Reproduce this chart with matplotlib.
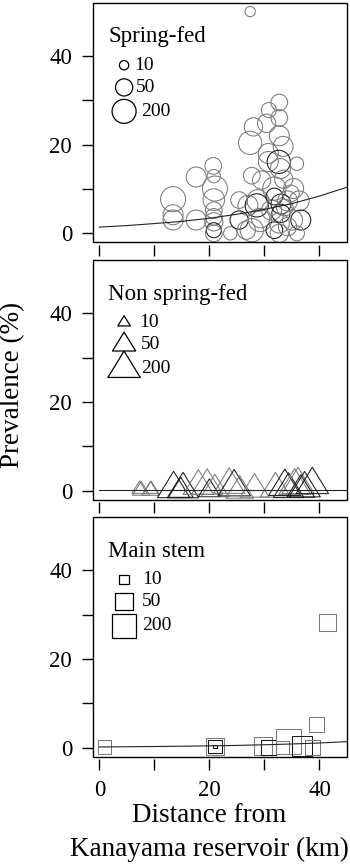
import numpy as np
import matplotlib
matplotlib.use("Agg")
import matplotlib.pyplot as plt
from matplotlib.path import Path
from matplotlib.patches import Rectangle

plt.rcParams['font.family'] = ['Liberation Serif', 'DejaVu Serif']

# ---- data ----
# spring-fed sites: distance (km), prevalence (%), sample size, dark outline
sf_dist = [27.4, 13.4, 13.4, 13.4, 17.6, 17.6, 20.7, 20.8, 21.0, 20.8, 20.8, 20.8, 20.8, 20.8,
           20.8, 23.8, 25.4, 25.4, 27.4, 27.7, 28.0, 27.7, 28.6, 28.8, 29.2, 30.4, 30.8, 32.7,
           32.7, 32.7, 33.4, 30.7, 30.7, 32.6, 32.9, 35.9, 35.3, 31.8, 31.8, 31.3, 33.0, 33.0,
           34.2, 36.3, 36.6, 35.1, 31.8, 32.7, 35.9, 32.7, 34.2, 27.0, 29.3, 26.7, 33.7, 34.8,
           29.5, 33.5]
sf_prev = [50.0, 7.7, 4.2, 3.0, 12.7, 3.0, 15.2, 12.9, 10.1, 7.6, 5.2, 3.7, 2.6, 0.7,
           0.0, 0.0, 3.0, 7.5, 20.4, 13.0, 24.0, 0.7, 6.3, 7.4, 3.0, 24.8, 27.8, 29.5,
           26.0, 22.0, 19.6, 18.0, 16.2, 16.1, 14.6, 15.7, 10.1, 10.1, 8.3, 5.2, 6.6, 4.5,
           7.3, 7.3, 3.0, 3.0, 0.7, 0.0, 0.0, 2.3, 1.5, 6.3, 3.3, 0.7, 5.8, 9.0,
           12.0, 12.2]
sf_n = [12, 245, 88, 88, 88, 88, 45, 23, 245, 125, 45, 45, 62, 32,
        45, 23, 62, 45, 170, 45, 62, 170, 170, 125, 170, 62, 32, 45,
        45, 88, 88, 88, 88, 170, 88, 23, 88, 170, 45, 88, 88, 62,
        88, 88, 88, 88, 45, 62, 32, 88, 62, 88, 62, 62, 45, 45,
        62, 62]
sf_dark = [0, 0, 0, 0, 0, 0, 0, 0, 0, 0, 0, 0, 0, 1,
           0, 0, 1, 0, 0, 0, 0, 0, 1, 0, 0, 0, 0, 0,
           0, 0, 0, 0, 0, 1, 0, 0, 0, 0, 1, 0, 1, 1,
           0, 0, 1, 0, 1, 0, 0, 0, 0, 0, 0, 0, 0, 0,
           0, 0]

# non spring-fed sites
nsf_dist = [7.3, 7.6, 9.4, 9.3, 13.5, 15.2, 14.8, 18.0, 19.6, 20.0, 21.0, 23.6, 24.5, 25.5,
            28.2, 32.0, 33.7, 34.4, 35.5, 36.1, 37.3, 38.7, 36.6]
nsf_prev = [0.3, 0.0, 0.3, 0.0, 0.4, 0.3, 0.0, 1.0, 1.1, 0.0, 0.3, 1.3, 0.8, 0.0,
            0.3, 0.4, 0.9, 0.3, 1.1, 1.3, 0.5, 1.3, 0.2]
nsf_n = [15, 20, 15, 20, 200, 170, 62, 150, 170, 40, 100, 170, 200, 100,
         120, 150, 200, 150, 180, 200, 170, 200, 100]
nsf_dark = [0, 0, 0, 0, 1, 1, 1, 0, 0, 1, 0, 0, 1, 0,
            0, 0, 1, 1, 0, 0, 1, 1, 1]

# main stem sites
ms_dist = [0.9, 21.0, 21.0, 21.0, 29.8, 30.8, 33.3, 34.4, 36.8, 38.7, 39.4, 41.5]
ms_prev = [0.1, 0.3, 0.3, 0.3, 0.3, 0.0, 0.1, 1.35, 0.3, 0.0, 5.3, 28.2]
ms_n = [23, 50, 23, 3, 60, 32, 20, 245, 88, 32, 32, 50]
ms_dark = [0, 0, 1, 1, 0, 1, 0, 0, 1, 0, 0, 0]

# fitted curves
fit_x = [0, 5, 10, 15, 20, 25, 30, 35, 40, 45]
sf_fit = [1.4, 1.75, 2.2, 2.7, 3.4, 4.3, 5.4, 6.7, 8.4, 10.4]
nsf_fit = [0.05, 0.05, 0.05, 0.05, 0.05, 0.05, 0.05, 0.05, 0.05, 0.05]
ms_fit = [0.15, 0.2, 0.25, 0.32, 0.4, 0.5, 0.65, 0.82, 1.05, 1.35]

legend_n = [10, 50, 200]
titles = ['Spring-fed', 'Non spring-fed', 'Main stem']

GRAY = '#7a7a7a'
DARK = '#1a1a1a'
DPI = 100


def marker_pt(n):
    # symbol diameter in points, grows with log sample size
    d_px = -2.0 + 4.91 * np.log(np.asarray(n, dtype=float))
    return d_px * 72.0 / DPI


tri = Path([(0, 2 / 3), (0.615, -1 / 3), (-0.615, -1 / 3), (0, 2 / 3)],
           [Path.MOVETO, Path.LINETO, Path.LINETO, Path.CLOSEPOLY])

panels = [
    (sf_dist, sf_prev, sf_n, sf_dark, sf_fit, 'o', 1.0),
    (nsf_dist, nsf_prev, nsf_n, nsf_dark, nsf_fit, tri, 1.464),
    (ms_dist, ms_prev, ms_n, ms_dark, ms_fit, 's', 1.0),
]
legend_text_x = [[6.4, 6.6, 7.6], [7.3, 7.6, 7.6], [7.8, 7.7, 7.7]]
legend_y = [37.9, 32.9, 27.5]

fig = plt.figure(figsize=(3.5, 8.64), dpi=DPI)
tops = [2.7, 260, 517]
H = 239.5

for i, (x, y, n, dark, fit, mk, scale) in enumerate(panels):
    top = tops[i]
    ax = fig.add_axes([93 / 350, 1 - (top + H) / 864, 254 / 350, H / 864])
    ax.set_xlim(-1.15, 45)
    ax.set_ylim(-2, 52)

    colors = [DARK if d else GRAY for d in dark]
    sizes = (marker_pt(n) * scale) ** 2
    ax.scatter(x, y, s=sizes, marker=mk, facecolors='none', edgecolors=colors,
               linewidths=0.75, clip_on=True)
    ax.plot(fit_x, fit, color='#222222', lw=0.8)

    # size legend
    ax.text(1.6, 44.3, titles[i], fontsize=16.5, ha='left', va='center')
    lsz = (marker_pt(legend_n) * scale) ** 2
    ax.scatter([4.5] * 3, legend_y, s=lsz, marker=mk, facecolors='none',
               edgecolors='black', linewidths=0.9)
    for tx, ty, nn in zip(legend_text_x[i], legend_y, legend_n):
        ax.text(tx, ty, str(nn), fontsize=14, ha='left', va='center')

    # box + R-like axes
    for sp in ax.spines.values():
        sp.set_visible(False)
    ax.spines['bottom'].set_position(('outward', 2))
    ax.add_patch(Rectangle((0, 0), 1, 1, transform=ax.transAxes, fill=False,
                           lw=1.0, ec='black', clip_on=False, zorder=5))
    ax.set_yticks([0, 10, 20, 30, 40])
    ax.set_yticklabels(['0', '', '20', '', '40'])
    ax.set_xticks([0, 10, 20, 30, 40])
    if i == 2:
        ax.set_xticklabels(['0', '', '20', '', '40'])
    else:
        ax.set_xticklabels([])
    ax.tick_params(axis='both', length=8, width=1.0, labelsize=16.5, pad=7)

fig.text(0.037, 0.555, 'Prevalence (%)', rotation=90, ha='center', va='center', fontsize=19.5)
fig.text(0.597, 1 - 815 / 864, 'Distance from', ha='center', va='center', fontsize=19.5)
fig.text(0.597, 1 - 849 / 864, 'Kanayama reservoir (km)', ha='center', va='center', fontsize=19.5)

fig.savefig('out.png', dpi=DPI)
